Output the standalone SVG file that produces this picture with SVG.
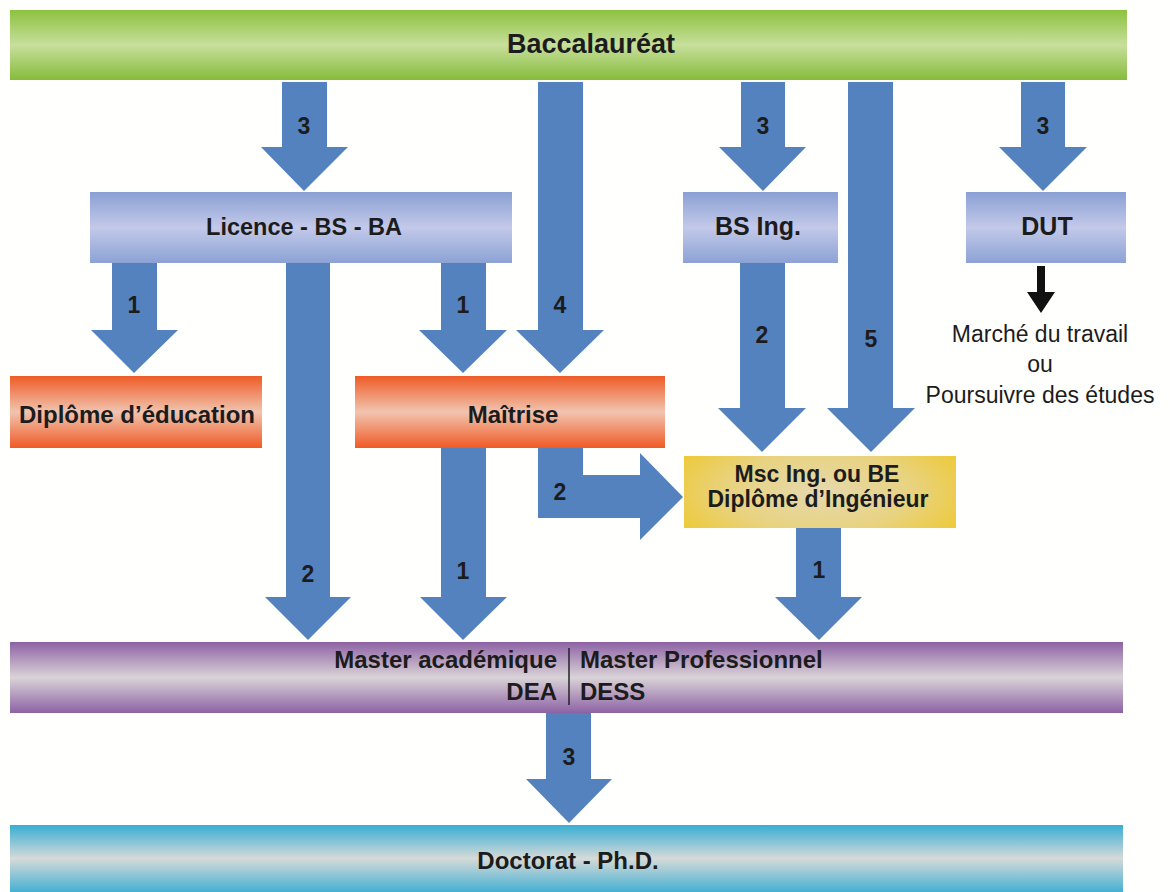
<svg xmlns="http://www.w3.org/2000/svg" width="1170" height="892" viewBox="0 0 1170 892">
<style>
.lbl{font-family:"Liberation Sans",Arial,sans-serif;font-weight:bold;font-size:24px;fill:#1c1c1c;text-anchor:middle}
.big{font-size:27px}
.num{font-family:"Liberation Sans",Arial,sans-serif;font-weight:bold;font-size:23px;fill:#1c1c1c;text-anchor:middle}
.reg{font-family:"Liberation Sans",Arial,sans-serif;font-size:23px;fill:#1c1c1c;text-anchor:middle}
.arr{fill:#5482BE}
</style>
<defs>
<linearGradient id="gGreen" x1="0" y1="0" x2="0" y2="1">
<stop offset="0" stop-color="#8CC23F"/><stop offset="0.5" stop-color="#C7DF9C"/><stop offset="1" stop-color="#86BC3A"/>
</linearGradient>
<linearGradient id="gBlue" x1="0" y1="0" x2="0" y2="1">
<stop offset="0" stop-color="#8AA0D4"/><stop offset="0.5" stop-color="#C3C9E9"/><stop offset="1" stop-color="#8CA2D5"/>
</linearGradient>
<linearGradient id="gOrange" x1="0" y1="0" x2="0" y2="1">
<stop offset="0" stop-color="#EF5B26"/><stop offset="0.5" stop-color="#F1C4AF"/><stop offset="1" stop-color="#F05A25"/>
</linearGradient>
<radialGradient id="gYellow" cx="0.5" cy="0.5" r="0.6" gradientTransform="translate(0.5 0.5) scale(1 1.6) translate(-0.5 -0.5)">
<stop offset="0" stop-color="#E6D8AE"/><stop offset="0.55" stop-color="#E8D382"/><stop offset="1" stop-color="#EEC935"/>
</radialGradient>
<linearGradient id="gPurple" x1="0" y1="0" x2="0" y2="1">
<stop offset="0" stop-color="#8D62A4"/><stop offset="0.5" stop-color="#D9D3D7"/><stop offset="1" stop-color="#8D62A4"/>
</linearGradient>
<linearGradient id="gCyan" x1="0" y1="0" x2="0" y2="1">
<stop offset="0" stop-color="#38AED3"/><stop offset="0.5" stop-color="#D6DAD8"/><stop offset="1" stop-color="#45B0D3"/>
</linearGradient>
</defs>
<rect width="1170" height="892" fill="#FFFFFD"/>

<g id="connectors">
<polygon class="arr" points="282,82 327,82 327,147 348,147 304,191 261,147 282,147"/>
<polygon class="arr" points="538,82 583,82 583,330 604,330 560,373 516,330 538,330"/>
<polygon class="arr" points="741,82 785,82 785,147 806,147 763,191 719,147 741,147"/>
<polygon class="arr" points="848,82 893,82 893,408 915,408 871,452 827,408 848,408"/>
<polygon class="arr" points="1021,82 1065,82 1065,147 1087,147 1043,191 999,147 1021,147"/>
<polygon class="arr" points="112,263 157,263 157,330 178,330 134,373 91,330 112,330"/>
<polygon class="arr" points="286,263 330,263 330,597 351,597 308,640 265,597 286,597"/>
<polygon class="arr" points="441,263 486,263 486,330 507,330 463,373 419,330 441,330"/>
<polygon class="arr" points="740,263 785,263 785,408 806,408 762,452 718,408 740,408"/>
<polygon class="arr" points="441,448 486,448 486,597 507,597 463,640 420,597 441,597"/>
<polygon class="arr" points="538,448 583,448 583,475 640,475 640,453 683,497 640,540 640,518 538,518"/>
<polygon class="arr" points="796,528 841,528 841,597 862,597 819,640 775,597 796,597"/>
<polygon class="arr" points="546,713 591,713 591,779 612,779 569,823 526,779 546,779"/>
<polygon fill="#111111" points="1037,266 1045,266 1045,292 1055,292 1041,313 1027,292 1037,292"/>
<text class="num" x="304" y="134">3</text>
<text class="num" x="560" y="313">4</text>
<text class="num" x="763" y="134">3</text>
<text class="num" x="871" y="347">5</text>
<text class="num" x="1043" y="134">3</text>
<text class="num" x="134" y="313">1</text>
<text class="num" x="308" y="582">2</text>
<text class="num" x="463" y="313">1</text>
<text class="num" x="762" y="343">2</text>
<text class="num" x="463" y="579">1</text>
<text class="num" x="560" y="500">2</text>
<text class="num" x="819" y="578">1</text>
<text class="num" x="569" y="765">3</text>
</g>

<g id="bac">
<rect x="10" y="10" width="1117" height="70" fill="url(#gGreen)"/>
<text class="lbl big" x="591" y="53">Baccalauréat</text>
</g>
<g id="licence">
<rect x="90" y="192" width="422" height="71" fill="url(#gBlue)"/>
<text class="lbl" x="304" y="235" style="font-size:23.5px">Licence - BS - BA</text>
</g>
<g id="bsing">
<rect x="683" y="192" width="155" height="71" fill="url(#gBlue)"/>
<text class="lbl" x="758" y="235" style="font-size:25px">BS Ing.</text>
</g>
<g id="dut">
<rect x="966" y="192" width="160" height="71" fill="url(#gBlue)"/>
<text class="lbl" x="1047" y="235" style="font-size:25px">DUT</text>
</g>
<g id="travail">
<text class="reg" x="1040" y="342">Marché du travail</text>
<text class="reg" x="1040" y="372">ou</text>
<text class="reg" x="1040" y="403">Poursuivre des études</text>
</g>
<g id="diplome-education">
<rect x="10" y="376" width="252" height="72" fill="url(#gOrange)"/>
<text class="lbl" x="137" y="423">Diplôme d’éducation</text>
</g>
<g id="maitrise">
<rect x="355" y="376" width="310" height="72" fill="url(#gOrange)"/>
<text class="lbl" x="513" y="423">Maîtrise</text>
</g>
<g id="msc">
<rect x="684" y="456" width="272" height="72" fill="url(#gYellow)"/>
<text class="lbl" x="817" y="482" style="font-size:23px">Msc Ing. ou BE</text>
<text class="lbl" x="818" y="507" style="font-size:23px">Diplôme d’Ingénieur</text>
</g>
<g id="master">
<rect x="10" y="642" width="1113" height="71" fill="url(#gPurple)"/>
<text class="lbl" x="557" y="668" style="text-anchor:end">Master académique</text>
<text class="lbl" x="557" y="700" style="text-anchor:end">DEA</text>
<line x1="569" y1="648" x2="569" y2="705" stroke="#222" stroke-width="1.5"/>
<text class="lbl" x="580" y="668" style="text-anchor:start">Master Professionnel</text>
<text class="lbl" x="580" y="700" style="text-anchor:start">DESS</text>
</g>
<g id="doctorat">
<rect x="10" y="825" width="1113" height="67" fill="url(#gCyan)"/>
<text class="lbl" x="568" y="869">Doctorat - Ph.D.</text>
</g>
</svg>
